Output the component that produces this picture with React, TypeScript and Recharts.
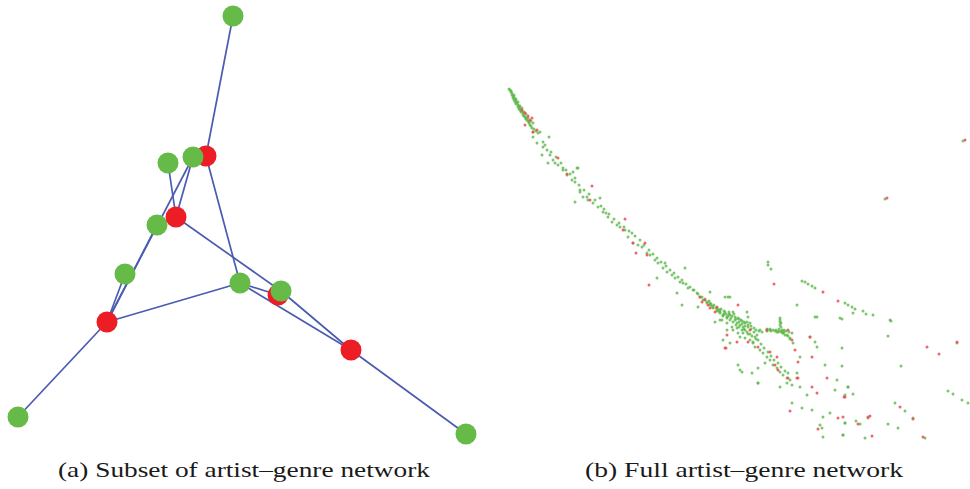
import { ScatterChart, Scatter, XAxis, YAxis } from 'recharts';

// left panel: nodes of the subset network (x, y, y down)
const nodeIds = ['g1', 'r1', 'g2', 'g3', 'g4', 'r2', 'g5', 'r3', 'g6', 'g7', 'r4', 'g8', 'r5', 'g9'];
const nodeX = [233, 206, 193, 168, 157, 176, 125, 107, 18, 240, 278, 281, 351, 466];
const nodeY = [16, 156, 157, 163, 225, 217, 274, 322, 417, 283, 295, 291, 350, 434];

const edges: [string, string][] = [
  ['g1', 'r1'], ['r1', 'g7'], ['g2', 'r2'], ['g2', 'r3'], ['g3', 'r2'], ['g4', 'r3'],
  ['g5', 'r3'], ['g6', 'r3'], ['r3', 'g7'], ['r2', 'g8'], ['g8', 'r5'], ['g7', 'r4'],
  ['g7', 'r5'], ['r5', 'g9'],
];

// right panel: full network, artists (green) and genres (red)
const greenDots: [number, number][] = [
  [510, 90], [511, 92], [512, 95], [513, 98], [514, 100], [515, 102], [516, 104], [518, 107], [519, 109],
  [520, 110], [521, 112], [523, 113], [524, 116], [526, 118], [527, 120], [529, 123], [530, 125], [532, 128],
  [509, 89], [511, 91], [512, 93], [513, 96], [514, 97], [515, 99], [516, 101], [517, 103], [518, 105],
  [519, 106], [520, 108], [521, 110], [522, 111], [523, 115], [525, 117], [526, 119], [528, 121], [529, 122],
  [531, 126], [534, 129], [536, 131], [514, 95], [516, 99], [518, 102], [520, 106], [522, 108], [524, 112],
  [526, 114], [528, 118], [531, 121],
  [533, 123], [533, 132], [540, 132], [549, 137], [533, 137], [537, 143], [538, 133], [543, 142], [543, 147],
  [547, 150], [542, 155], [550, 155], [553, 160], [548, 163], [555, 163], [558, 165], [563, 168], [563, 170],
  [577, 168], [578, 168], [573, 172], [567, 175], [572, 180], [575, 182], [580, 190], [580, 192], [583, 197],
  [587, 197], [588, 200], [575, 202], [593, 203], [598, 207], [600, 198], [603, 212], [606, 213], [608, 217],
  [612, 222], [617, 225], [620, 227], [625, 230], [632, 233], [628, 237], [633, 243], [638, 245], [642, 247],
  [647, 253], [650, 255], [655, 260], [658, 263], [665, 263], [663, 268], [667, 272], [672, 275], [675, 278],
  [680, 282], [683, 283], [657, 278], [685, 268], [677, 293], [688, 288], [693, 290], [697, 293], [700, 297],
  [703, 300], [707, 302], [710, 303], [713, 307], [717, 310], [720, 312], [723, 315], [727, 318], [710, 292],
  [682, 305], [698, 307], [728, 297], [720, 320], [715, 322],
  [545, 145], [551, 152], [556, 157], [561, 163], [566, 170], [570, 174], [575, 178], [579, 185], [584, 190],
  [589, 194], [595, 200], [601, 206], [604, 209], [609, 214], [614, 219], [619, 223], [624, 227], [629, 231],
  [635, 236], [640, 240], [644, 245], [649, 250], [653, 254], [657, 258], [661, 262], [666, 266], [670, 270],
  [674, 273], [678, 277], [682, 280], [686, 284], [690, 287], [694, 290], [698, 294], [702, 297], [705, 299],
  [709, 301], [711, 304], [714, 305], [718, 309], [721, 309], [724, 311], [726, 314], [729, 314], [732, 316],
  [736, 319], [739, 319], [742, 321], [745, 323], [748, 325], [751, 326], [754, 328], [756, 330], [759, 331],
  [745, 330], [750, 334], [755, 337], [758, 340], [761, 344], [764, 348], [768, 352], [771, 356], [774, 360],
  [778, 363], [781, 367], [785, 371], [788, 373],
  [707, 303], [710, 305], [713, 308], [717, 311], [720, 313], [723, 316], [727, 317], [730, 320], [733, 322],
  [737, 323], [740, 325], [743, 327], [722, 320], [727, 323], [732, 327], [737, 328], [742, 330], [747, 332],
  [720, 310], [725, 312], [730, 315], [735, 317], [733, 312], [747, 322], [750, 323], [738, 333], [740, 337],
  [745, 338], [750, 340], [753, 342], [755, 347], [760, 350], [763, 353], [767, 357], [770, 360], [773, 365],
  [777, 368], [780, 372], [783, 375], [787, 378], [792, 385], [765, 363], [758, 368], [752, 373], [753, 343],
  [725, 297], [730, 297], [747, 312], [748, 317], [760, 330], [762, 332], [767, 330], [770, 330], [777, 332],
  [782, 330], [780, 322], [780, 325], [783, 333], [787, 335], [790, 338], [793, 343], [797, 305], [817, 317],
  [810, 337], [815, 342], [817, 347], [800, 357], [797, 373], [790, 380], [787, 383], [780, 387], [758, 383],
  [740, 370], [727, 330], [723, 340], [730, 343],
  [712, 306], [716, 308], [719, 311], [724, 314], [728, 316], [731, 318], [735, 320], [739, 322], [742, 324],
  [745, 326], [729, 312], [734, 314], [738, 318], [741, 320], [744, 322], [736, 325], [739, 327], [744, 329],
  [748, 327], [751, 329], [754, 332], [757, 335], [752, 336], [756, 339], [748, 334], [743, 333], [733, 330],
  [767, 329], [770, 329], [773, 330], [776, 330], [779, 331], [782, 331], [784, 330], [786, 331], [780, 320],
  [781, 327], [783, 333], [785, 335], [788, 336], [790, 339],
  [767, 331], [771, 331], [775, 331], [778, 332], [781, 332], [784, 332], [789, 332], [792, 333], [780, 318],
  [781, 323], [779, 329],
  [825, 365], [837, 380], [835, 390], [845, 395], [848, 387], [830, 413], [823, 417], [812, 410], [802, 408],
  [792, 403], [820, 425], [822, 428], [823, 437], [843, 435], [845, 423], [800, 387], [807, 395], [738, 365],
  [742, 372], [758, 383],
  [845, 303], [848, 305], [852, 307], [855, 309], [863, 311], [866, 314], [873, 315], [853, 313], [842, 319],
  [891, 321], [888, 336], [842, 348], [842, 366], [901, 366], [848, 387], [853, 394], [957, 343], [948, 391],
  [953, 394], [962, 400], [968, 403], [895, 403], [905, 411], [913, 418], [888, 424], [898, 428], [856, 421],
  [860, 424], [868, 418], [845, 423], [843, 435], [865, 438], [925, 438],
  [963, 141], [885, 199], [768, 262], [768, 265], [771, 269], [802, 281], [805, 282], [808, 284], [812, 286],
  [815, 288], [840, 318], [815, 317], [890, 320],
];

const redDots: [number, number][] = [
  [522, 110], [525, 113], [532, 118], [525, 125], [533, 132], [558, 158], [567, 174], [592, 186], [590, 200],
  [528, 116], [530, 120], [537, 130],
  [625, 219], [623, 230], [633, 243], [645, 243], [636, 253], [647, 255], [649, 285], [700, 297], [705, 300],
  [710, 308], [717, 307], [702, 302], [708, 305], [715, 312], [738, 305], [727, 335], [725, 348], [737, 342],
  [750, 330], [748, 342], [758, 347], [770, 352], [777, 357], [767, 330], [788, 330], [792, 340], [795, 350],
  [810, 337], [812, 357], [775, 365], [778, 370], [788, 378], [797, 378], [827, 378], [798, 362], [726, 348],
  [798, 378], [812, 387], [817, 393], [790, 411], [818, 429], [838, 418], [845, 397], [927, 347], [939, 354],
  [844, 397], [900, 407], [858, 424], [870, 416], [872, 436], [923, 437], [957, 342], [843, 417], [965, 140],
  [887, 198], [774, 284], [823, 292], [838, 301], [868, 417], [913, 419],
];

const GREEN = '#66ba47';
const RED = '#ec1d25';
const BLUE = '#4a5bb0';

const nodes = nodeIds.map((id, i) => ({ id, x: nodeX[i], y: nodeY[i], c: id[0] === 'g' ? GREEN : RED }));
const nodeById = Object.fromEntries(nodes.map((n) => [n.id, n]));
const edgeData = edges.map(([a, b]) => [nodeById[a], nodeById[b]].map((n) => ({ x: n.x, y: n.y })));
const greenData = greenDots.map(([x, y]) => ({ x, y }));
const redData = redDots.map(([x, y]) => ({ x, y }));

export default function App() {
  return (
    <div style={{ position: 'relative', width: 970, height: 489, background: '#fff' }}>
      <style>{'body{margin:0}'}</style>
      <ScatterChart width={970} height={489} margin={{ top: 0, right: 0, bottom: 0, left: 0 }}>
        <XAxis dataKey="x" type="number" domain={[0, 970]} hide />
        <YAxis dataKey="y" type="number" domain={[0, 489]} reversed hide />
        {edgeData.map((d, i) => (
          <Scatter
            key={'e' + i}
            data={d}
            line={{ stroke: BLUE, strokeWidth: 1.7 }}
            shape={() => <g />}
            isAnimationActive={false}
          />
        ))}
        <Scatter
          data={nodes}
          shape={(p: any) => <circle cx={p.cx} cy={p.cy} r={10.5} fill={p.payload.c} />}
          isAnimationActive={false}
        />
        <Scatter
          data={greenData}
          shape={(p: any) => <circle cx={p.cx} cy={p.cy} r={1.5} fill="#5bb848" fillOpacity={0.8} />}
          isAnimationActive={false}
        />
        <Scatter
          data={redData}
          shape={(p: any) => <circle cx={p.cx} cy={p.cy} r={1.5} fill="#ee4a52" fillOpacity={0.85} />}
          isAnimationActive={false}
        />
      </ScatterChart>
      <svg width={970} height={489} style={{ position: 'absolute', left: 0, top: 0, pointerEvents: 'none' }}>
        <text x={58} y={477} fontFamily="'Liberation Serif', 'DejaVu Serif', serif" fontSize={21} fill="#1a1a1a"
          textLength={372} lengthAdjust="spacingAndGlyphs">
          (a) Subset of artist–genre network
        </text>
        <text x={585} y={477} fontFamily="'Liberation Serif', 'DejaVu Serif', serif" fontSize={21} fill="#1a1a1a"
          textLength={318} lengthAdjust="spacingAndGlyphs">
          (b) Full artist–genre network
        </text>
      </svg>
    </div>
  );
}
